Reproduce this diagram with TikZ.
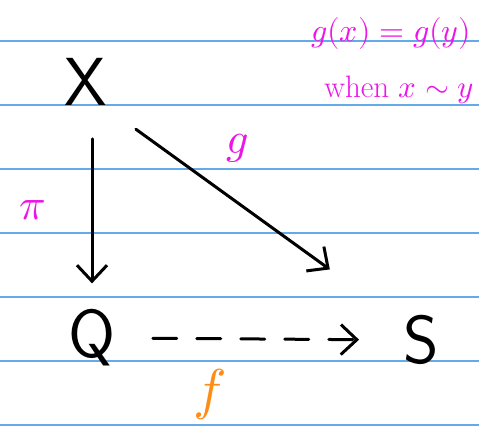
\documentclass[tikz,border=0pt]{standalone}
\usepackage{unicode-math}
\setmathfont{Latin Modern Math}
\usetikzlibrary{arrows.meta}
\definecolor{pinkmag}{RGB}{236,20,232}
\definecolor{orng}{RGB}{255,140,20}
\definecolor{ruled}{RGB}{100,170,235}
\begin{document}
\begin{tikzpicture}[x=1pt,y=-1pt,
  obj/.style={inner sep=0pt, font=\fontsize{68}{68}\selectfont\sffamily},
  lab/.style={text=pinkmag, inner sep=0pt},
  arr/.style={line width=3pt, line cap=round, line join=round,
    -{Straight Barb[length=16pt,width=30pt,line width=3pt]}},
  rule/.style={ruled, line width=1.2pt}]
\useasboundingbox (0,0) rectangle (479,430);
\fill[white] (0,0) rectangle (479,430);
\foreach \yy in {41,105,169,233,297,361,425} \draw[rule] (0,\yy) -- (479,\yy);
% objects
\node[obj] (X) at (86,82) {X};
\node[obj] (Q) at (92,338) {Q};
\node[obj] (S) at (421,340) {S};
% arrows
\draw[arr, shorten <=33pt, shorten >=26pt] ([xshift=6pt]X.south) -- (Q.north);
\draw[arr, shorten <=40pt, shorten >=78pt] ([xshift=-4pt]X.south east) -- ([xshift=-10pt]S.north west);
\draw[arr, dash pattern=on 24pt off 20pt, shorten <=37pt, shorten >=44pt] (Q.east) -- (S.west);
% labels
\node[lab, font=\fontsize{44}{44}\selectfont] (pi) at (33,210) {$\pi$};
\node[lab, font=\fontsize{44}{44}\selectfont] (g) at (238,148) {$g$};
\node[inner sep=0pt, text=orng, font=\fontsize{56}{56}\selectfont] (f) at (210,394) {$f$};
\node[lab, font=\fontsize{32}{32}\selectfont] (eq) at (391,34) {$g(x)=g(y)$};
\node[lab, font=\fontsize{31}{31}\selectfont] (when) at (399,90) {when $x\sim y$};
\end{tikzpicture}
\end{document}
